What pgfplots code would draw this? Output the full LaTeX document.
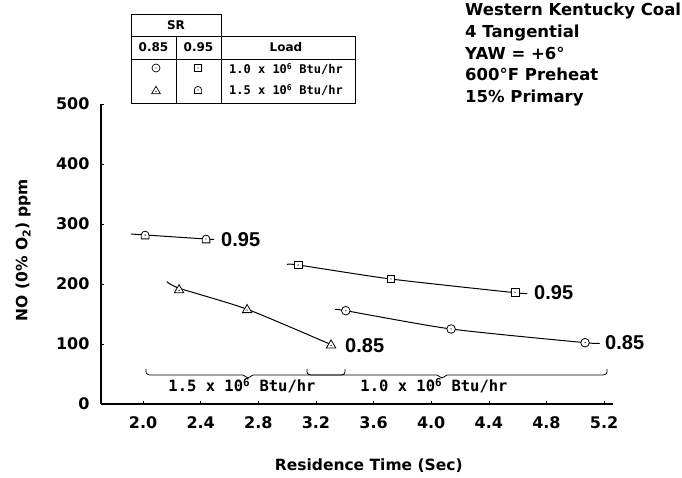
\documentclass[border=0pt]{standalone}
\usepackage{fontspec}
\setmainfont{DejaVu Sans}
\newfontfamily\lsans{Liberation Sans}
\newfontfamily\mono{DejaVu Sans Mono}
\usepackage{pgfplots}
\pgfplotsset{compat=1.18}

\pgfdeclareplotmark{dcircle}{%
  \pgfpathcircle{\pgfpointorigin}{\pgfplotmarksize}%
  \pgfsetfillcolor{white}\pgfusepathqfillstroke
  \pgfsetfillcolor{black}%
  \pgfpathcircle{\pgfpointorigin}{0.7pt}\pgfusepathqfill}
\pgfdeclareplotmark{dsquare}{%
  \pgfpathrectangle{\pgfpoint{-0.9\pgfplotmarksize}{-0.9\pgfplotmarksize}}{\pgfpoint{1.8\pgfplotmarksize}{1.8\pgfplotmarksize}}%
  \pgfsetfillcolor{white}\pgfusepathqfillstroke
  \pgfsetfillcolor{black}%
  \pgfpathcircle{\pgfpointorigin}{0.7pt}\pgfusepathqfill}
\pgfdeclareplotmark{dtri}{%
  \pgfpathmoveto{\pgfpoint{0pt}{1.1\pgfplotmarksize}}%
  \pgfpathlineto{\pgfpoint{-1.1\pgfplotmarksize}{-0.8\pgfplotmarksize}}%
  \pgfpathlineto{\pgfpoint{1.1\pgfplotmarksize}{-0.8\pgfplotmarksize}}%
  \pgfpathclose
  \pgfsetfillcolor{white}\pgfusepathqfillstroke
  \pgfsetfillcolor{black}%
  \pgfpathcircle{\pgfpoint{0pt}{-0.2\pgfplotmarksize}}{0.7pt}\pgfusepathqfill}
\pgfdeclareplotmark{darch}{%
  \pgfpathmoveto{\pgfpoint{-0.9\pgfplotmarksize}{-0.9\pgfplotmarksize}}%
  \pgfpathlineto{\pgfpoint{0.9\pgfplotmarksize}{-0.9\pgfplotmarksize}}%
  \pgfpathlineto{\pgfpoint{0.9\pgfplotmarksize}{0pt}}%
  \pgfpatharc{0}{180}{0.9\pgfplotmarksize}%
  \pgfpathclose
  \pgfsetfillcolor{white}\pgfusepathqfillstroke
  \pgfsetfillcolor{black}%
  \pgfpathcircle{\pgfpointorigin}{0.7pt}\pgfusepathqfill}

\begin{document}
\begin{tikzpicture}
\path[use as bounding box] (-101pt,-73pt) rectangle (581pt,404pt);
\begin{axis}[
  at={(0pt,0pt)}, anchor=south west,
  width=512pt, height=300pt, scale only axis,
  xmin=1.708, xmax=5.262, ymin=0, ymax=500,
  axis lines=left,
  axis line style={-, line width=1.3pt},
  xtick={2.0,2.4,2.8,3.2,3.6,4.0,4.4,4.8,5.2},
  ytick={0,100,200,300,400,500},
  tick align=inside,
  major tick length=3pt,
  tick style={black, line width=0.6pt},
  /pgf/number format/assume math mode=true,
  xticklabel style={font=\bfseries\fontsize{16}{16}\selectfont, yshift=-9pt, /pgf/number format/.cd, fixed, fixed zerofill, precision=1},
  yticklabel style={font=\bfseries\fontsize{16}{16}\selectfont, xshift=-8pt, /pgf/number format/.cd, fixed},
  every axis x label/.style={at={(axis description cs:0.523,-0.207)}, anchor=center},
  every axis y label/.style={at={(axis description cs:-0.152,0.513)}, anchor=center, rotate=90},
  xlabel={\bfseries\fontsize{15.5}{16}\selectfont Residence Time (Sec)},
  ylabel={\bfseries\fontsize{15.5}{16}\selectfont NO (0\% O\textsubscript{2}) ppm},
  clip=false,
  mark size=4.3pt,
]
% SR 0.95, 1.5 load
\addplot[smooth, tension=0.4, line width=1pt, no marks] coordinates {(1.917,283.3) (2.014,281.7) (2.437,275.0) (2.493,274.2)};
\addplot[only marks, mark=darch, line width=0.8pt] coordinates {(2.014,281.7) (2.437,275.0)};
% SR 0.85, 1.5 load
\addplot[smooth, tension=0.4, line width=1pt, no marks] coordinates {(2.165,204.0) (2.250,193.0) (2.722,158.0) (3.305,99.0)};
\addplot[only marks, mark=dtri, line width=0.8pt] coordinates {(2.250,191.0) (2.722,158.0) (3.305,99.0)};
% SR 0.95, 1.0 load
\addplot[smooth, tension=0.4, line width=1pt, no marks] coordinates {(3.000,232.5) (3.076,231.7) (3.721,208.3) (4.582,185.5) (4.666,184.5)};
\addplot[only marks, mark=dsquare, line width=0.8pt] coordinates {(3.076,231.7) (3.721,208.3) (4.582,185.5)};
% SR 0.85, 1.0 load
\addplot[smooth, tension=0.4, line width=1pt, no marks] coordinates {(3.333,157.5) (3.407,155.5) (4.138,125.0) (5.068,102.2) (5.165,101.5)};
\addplot[only marks, mark=dcircle, line width=0.8pt] coordinates {(3.407,155.5) (4.138,125.0) (5.068,102.2)};
\end{axis}
\begin{scope}[x=1pt, y=-1pt, shift={(-101pt,404pt)}]
  % curve labels
  \node[anchor=west, inner sep=0pt, font=\lsans\bfseries\fontsize{20}{20}\selectfont] at (221,240) {0.95};
  \node[anchor=west, inner sep=0pt, font=\lsans\bfseries\fontsize{20}{20}\selectfont] at (345,346) {0.85};
  \node[anchor=west, inner sep=0pt, font=\lsans\bfseries\fontsize{20}{20}\selectfont] at (534,293) {0.95};
  \node[anchor=west, inner sep=0pt, font=\lsans\bfseries\fontsize{20}{20}\selectfont] at (605,343) {0.85};
  % brackets
  \draw[line width=0.8pt] (146,369) .. controls (146,374) .. (150,375) -- (243,375) -- (248,378) -- (253,375) -- (341,375) .. controls (345,374) .. (345,369);
  \draw[line width=0.8pt] (307,369) .. controls (307,374) .. (311,375) -- (437,375) -- (442,378) -- (447,375) -- (603,375) .. controls (607,374) .. (607,369);
  \node[inner sep=0pt, font=\mono\bfseries\fontsize{15.5}{16}\selectfont] at (242,386) {1.5 x 10\textsuperscript{6} Btu/hr};
  \node[inner sep=0pt, font=\mono\bfseries\fontsize{15.5}{16}\selectfont] at (434,386) {1.0 x 10\textsuperscript{6} Btu/hr};
  % info text
  \node[anchor=north west, align=left, inner sep=0pt, font=\bfseries\fontsize{16.5}{21.7}\selectfont] at (465,3)
    {Western Kentucky Coal\\4 Tangential\\YAW = +6°\\600°F Preheat\\15\% Primary};
  % legend table
  \draw[line width=0.7pt] (131,14) rectangle (221,36);
  \draw[line width=0.7pt] (131,36) rectangle (355,103);
  \draw[line width=0.7pt] (176,36) -- (176,103);
  \draw[line width=0.7pt] (221,36) -- (221,103);
  \draw[line width=0.7pt] (131,59) -- (355,59);
  \node[font=\bfseries\fontsize{12}{12}\selectfont] at (176,25) {SR};
  \node[font=\bfseries\fontsize{12}{12}\selectfont] at (153.5,47.5) {0.85};
  \node[font=\bfseries\fontsize{12}{12}\selectfont] at (198.5,47.5) {0.95};
  \node[font=\bfseries\fontsize{12}{12}\selectfont] at (286,47.5) {Load};
  \node[font=\mono\bfseries\fontsize{12}{12}\selectfont] at (286,69) {1.0 x 10\textsuperscript{6} Btu/hr};
  \node[font=\mono\bfseries\fontsize{12}{12}\selectfont] at (286,90) {1.5 x 10\textsuperscript{6} Btu/hr};
  \node[inner sep=0pt] at (156,68) {\tikz{\pgfsetplotmarksize{4pt}\pgfsetlinewidth{0.7pt}\pgfuseplotmark{dcircle}}};
  \node[inner sep=0pt] at (198,68) {\tikz{\pgfsetplotmarksize{4pt}\pgfsetlinewidth{0.7pt}\pgfuseplotmark{dsquare}}};
  \node[inner sep=0pt] at (156,90) {\tikz{\pgfsetplotmarksize{4pt}\pgfsetlinewidth{0.7pt}\pgfuseplotmark{dtri}}};
  \node[inner sep=0pt] at (198,90) {\tikz{\pgfsetplotmarksize{4pt}\pgfsetlinewidth{0.7pt}\pgfuseplotmark{darch}}};
\end{scope}
\end{tikzpicture}
\end{document}
